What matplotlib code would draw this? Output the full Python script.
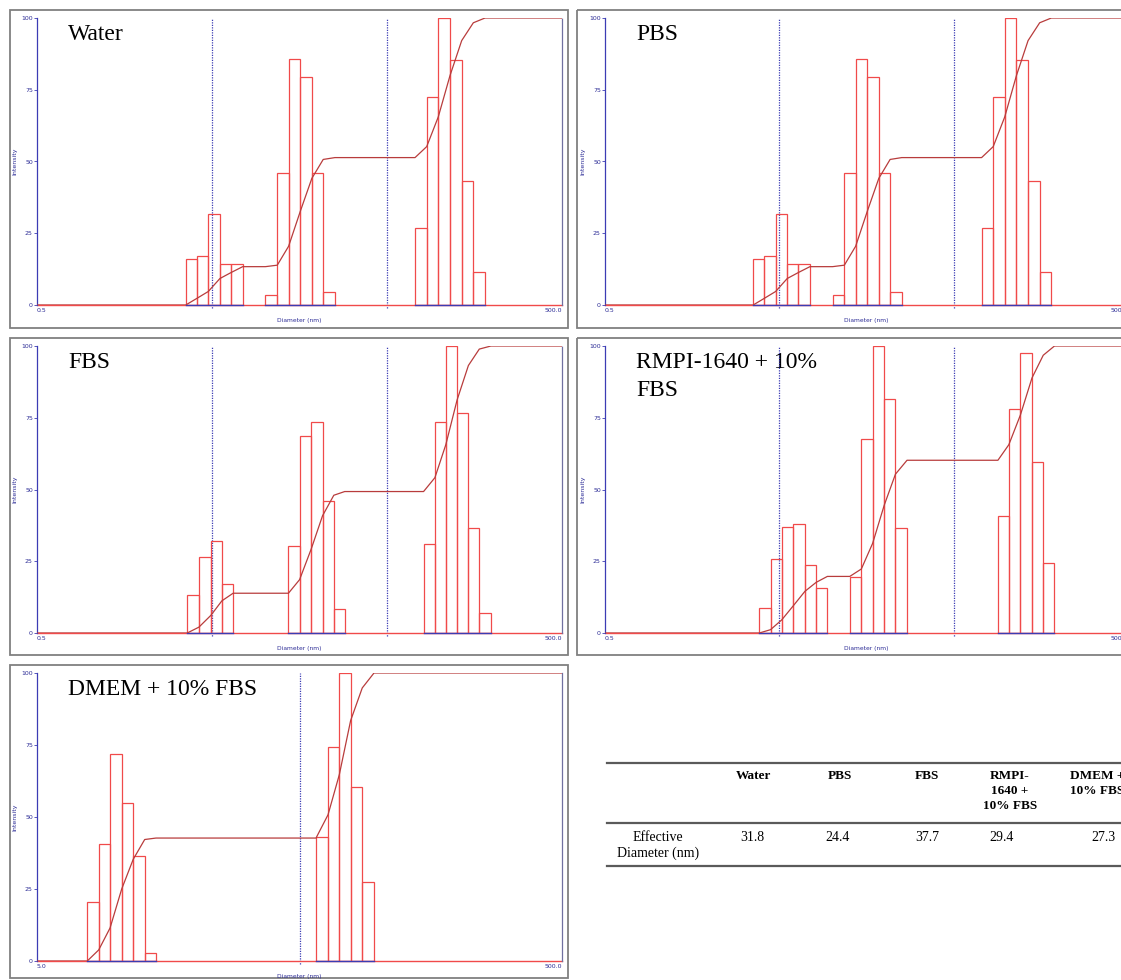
import numpy as np
import matplotlib
matplotlib.use('Agg')
import matplotlib.pyplot as plt
from matplotlib.patches import Rectangle

# bin edges (nm) and intensities for each peak group
water_edges = [[3.54, 4.09, 4.76, 5.55, 6.42, 7.49],
               [10.1, 11.8, 13.7, 16.0, 18.6, 21.6, 25.2],
               [72.3, 84.3, 98.2, 114.5, 133.6, 155.7, 181.6]]
water_heights = [[15.9, 16.9, 31.6, 14.4, 14.4],
                 [3.6, 46.0, 85.7, 79.3, 46.0, 4.5],
                 [26.7, 72.4, 100, 85.3, 43.3, 11.6]]

pbs_edges = [[3.54, 4.09, 4.76, 5.55, 6.42, 7.49],
             [10.1, 11.8, 13.7, 16.0, 18.6, 21.6, 25.2],
             [72.3, 84.3, 98.2, 114.5, 133.6, 155.7, 181.6]]
pbs_heights = [[15.9, 16.9, 31.6, 14.4, 14.4],
               [3.6, 46.0, 85.7, 79.3, 46.0, 4.5],
               [26.7, 72.4, 100, 85.3, 43.3, 11.6]]

fbs_edges = [[3.61, 4.21, 4.93, 5.69, 6.60],
             [13.67, 15.83, 18.46, 21.40, 24.83, 28.66],
             [80.9, 93.9, 108.4, 125.8, 145.9, 168.4, 196.3]]
fbs_heights = [[13.1, 26.4, 32.1, 17.1],
               [30.3, 68.7, 73.6, 45.9, 8.3],
               [30.9, 73.6, 100, 76.6, 36.6, 6.9]]

rmpi_edges = [[3.84, 4.45, 5.16, 6.01, 7.01, 8.13, 9.43],
              [12.68, 14.77, 17.15, 19.98, 23.17, 27.0],
              [89.7, 103.6, 120.7, 140.7, 163.2, 189.3]]
rmpi_heights = [[8.7, 25.7, 37.0, 38.0, 23.6, 15.6],
                [19.5, 67.5, 100, 81.5, 36.6],
                [40.8, 78.0, 97.5, 59.5, 24.3]]

dmem_edges = [[7.77, 8.59, 9.49, 10.51, 11.63, 12.86, 14.2],
              [57.8, 64.2, 70.9, 78.3, 86.7, 96.1]]
dmem_heights = [[20.4, 40.6, 72.0, 55.0, 36.5, 2.7],
                [42.9, 74.2, 100, 60.3, 27.6]]

# table
table_cols = ['Water', 'PBS', 'FBS', 'RMPI-\n1640 +\n10% FBS', 'DMEM +\n10% FBS']
eff_diam = [31.8, 24.4, 37.7, 29.4, 27.3]

W, H = 1121, 980
fig = plt.figure(figsize=(W / 100, H / 100), dpi=100)

bg = fig.add_axes([0, 0, 1, 1])
bg.set_xlim(0, W)
bg.set_ylim(H, 0)
bg.axis('off')

BAR = '#f04a4a'
CDF = '#b83c3c'
BLUE = '#3c3cb4'
TXT = '#2c2c96'
SERIF = ['Liberation Serif', 'DejaVu Serif']


def draw_panel(title, edges, heights, xlim, xlbl, dashed, frame, box):
    fl, ft, fr, fb = frame
    bg.add_patch(Rectangle((fl, ft), fr - fl, fb - ft, fill=False,
                           ec='#808080', lw=1.3))
    l, t, r, b = box
    ax = fig.add_axes([l / W, 1 - b / H, (r - l) / W, (b - t) / H])
    ax.set_xscale('log')
    ax.set_xlim(*xlim)
    ax.set_ylim(0, 100)
    ax.patch.set_alpha(0)

    # baseline
    ax.plot(xlim, [0, 0], color=BAR, lw=1.0, clip_on=False, zorder=2)

    total = sum(sum(h) for h in heights)
    xs, ys = [xlim[0]], [0.0]
    run = 0.0
    for e, h in zip(edges, heights):
        ax.bar(e[:-1], h, width=np.diff(e), align='edge', fill=False,
               edgecolor=BAR, lw=0.9, zorder=3)
        ax.plot([e[0], e[-1]], [0, 0], color=BLUE, lw=1.0, zorder=4,
                clip_on=False)
        xs.append(e[0])
        ys.append(run)
        for i, v in enumerate(h):
            run += v
            xs.append(e[i + 1])
            ys.append(run)
    xs.append(xlim[1])
    ys.append(run)
    ax.plot(xs, np.array(ys) / total * 100, color=CDF, lw=0.9, zorder=5)

    for d in dashed:
        ax.plot([d, d], [-1.2, 100], color=BLUE, lw=0.9, ls=(0, (1, 1)),
                zorder=1, clip_on=False)

    for s in ['top', 'bottom']:
        ax.spines[s].set_visible(False)
    ax.spines['left'].set_color(BLUE)
    ax.spines['left'].set_linewidth(0.9)
    ax.spines['right'].set_color('#7070a0')
    ax.spines['right'].set_linestyle((0, (1, 1)))
    ax.spines['right'].set_linewidth(0.9)

    ax.set_yticks([0, 25, 50, 75, 100])
    ax.set_xticks([])
    ax.xaxis.set_minor_locator(matplotlib.ticker.NullLocator())
    ax.tick_params(axis='y', length=2, width=0.6, color=BLUE,
                   labelsize=4.5, labelcolor=TXT, pad=1)
    ax.set_ylabel('Intensity', fontsize=4.5, color=TXT, labelpad=3)

    ax.text(0.0, -0.012, xlbl, transform=ax.transAxes, fontsize=4.5,
            color=TXT, ha='left', va='top')
    ax.text(1.0, -0.012, '500.0', transform=ax.transAxes, fontsize=4.5,
            color=TXT, ha='right', va='top')
    ax.text(0.5, -0.045, 'Diameter (nm)', transform=ax.transAxes,
            fontsize=4.3, color=TXT, ha='center', va='top')

    for k, line in enumerate(title):
        bg.text(l + 31, t + 22 + 28 * k, line, fontsize=17, family=SERIF,
                ha='left', va='baseline')
    return ax


draw_panel(['Water'], water_edges, water_heights, (0.5, 500), '0.5', [5, 50],
           (10, 10, 568, 328), (37, 18, 562, 305))
draw_panel(['PBS'], pbs_edges, pbs_heights, (0.5, 500), '0.5', [5, 50],
           (577, 10, 1140, 328), (605, 18, 1128, 305))
draw_panel(['FBS'], fbs_edges, fbs_heights, (0.5, 500), '0.5', [5, 50],
           (10, 338, 568, 655), (37, 346, 562, 633))
draw_panel(['RMPI-1640 + 10%', 'FBS'], rmpi_edges, rmpi_heights, (0.5, 500),
           '0.5', [5, 50], (577, 338, 1140, 655), (605, 346, 1128, 633))
draw_panel(['DMEM + 10% FBS'], dmem_edges, dmem_heights, (5, 500), '5.0', [50],
           (10, 665, 568, 978), (37, 673, 562, 961))

# table of effective diameters
for y in [763, 823, 866]:
    bg.plot([607, W], [y, y], color='#5a5a5a', lw=1.6)

col_x = [753, 840, 927, 1010, 1103]
for cx, name in zip(col_x, table_cols):
    if name.startswith('DMEM'):
        bg.text(1070, 770, name, fontsize=9.5, family=SERIF, weight='bold',
                ha='left', va='top', linespacing=1.35)
    else:
        bg.text(cx, 770, name, fontsize=9.5, family=SERIF, weight='bold',
                ha='center', va='top', multialignment='center',
                linespacing=1.35)
bg.text(658, 831, 'Effective\nDiameter (nm)', fontsize=10, family=SERIF,
        ha='center', va='top', multialignment='center', linespacing=1.2)
val_x = [752, 838, 927, 1002, 1103]
for vx, v in zip(val_x, eff_diam):
    bg.text(vx, 831, f'{v:.1f}', fontsize=10, family=SERIF,
            ha='center', va='top')

fig.savefig('out.png', dpi=100)
